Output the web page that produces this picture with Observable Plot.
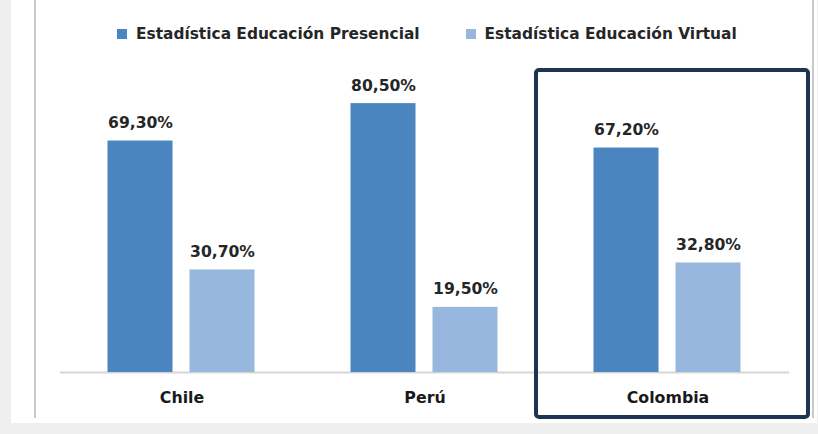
<!DOCTYPE html>
<html><head><meta charset="utf-8">
<script src="https://cdn.jsdelivr.net/npm/d3@7"></script>
<script src="https://cdn.jsdelivr.net/npm/@observablehq/plot@0.6"></script>
<style>
html,body{margin:0;padding:0;background:#efefef;}
#wrap{position:relative;width:818px;height:434px;overflow:hidden;background:#efefef;font-family:"DejaVu Sans",sans-serif;}
#paper{position:absolute;left:11px;top:0;width:806px;height:423px;background:#fff;}
#lineL{position:absolute;left:34px;top:0;width:2px;height:418px;background:#c9c9c9;}
#lineR{position:absolute;left:812px;top:0;width:2px;height:418px;background:#c9c9c9;}
#legend{position:absolute;top:17px;left:117px;}
#chart{position:absolute;left:0;top:0;}
#chart svg [aria-label^="fx-axis"] text{font-size:15.8px;font-weight:bold;fill:#1a1a1a;}
#legend .lg-swatch{margin-right:46px !important;font-size:15.4px;font-weight:bold;color:#262626;font-family:"DejaVu Sans",sans-serif;}
#legend .lg-swatch svg{margin-right:9px !important;}
</style></head><body>
<div id="wrap"><div id="paper"></div><div id="lineL"></div><div id="lineR"></div><div id="chart"></div><div id="legend"></div></div>
<script>
const countries = ["Chile", "Perú", "Colombia"];
const series = ["Estadística Educación Presencial", "Estadística Educación Virtual"];
const presencial = [69.3, 80.5, 67.2];
const virtual = [30.7, 19.5, 32.8];
const colors = ["#4a85bf", "#97b7de"];
const highlighted = ["Colombia"];

const data = countries.flatMap((c, i) => [
  {country: c, serie: series[0], value: presencial[i]},
  {country: c, serie: series[1], value: virtual[i]}
]);
const fmt = v => v.toFixed(2).replace(".", ",") + "%";

const chart = Plot.plot({
  width: 818, height: 434,
  marginTop: 38, marginBottom: 62, marginLeft: 59.5, marginRight: 29.5,
  style: {fontFamily: "'DejaVu Sans', sans-serif", background: "transparent", overflow: "visible"},
  fx: {domain: countries, padding: 0, label: null, tickSize: 0, tickPadding: 19, axis: "bottom"},
  x: {domain: series, paddingInner: 0.207, paddingOuter: 0.585, axis: null},
  y: {domain: [0, 100], axis: null},
  color: {domain: series, range: colors},
  marks: [
    Plot.ruleY([0], {stroke: "#d6d6d6", strokeWidth: 2}),
    Plot.barY(data, {fx: "country", x: "serie", y: "value", fill: "serie"}),
    Plot.text(data, {fx: "country", x: "serie", y: "value", text: d => fmt(d.value), dy: -13, lineAnchor: "bottom", fontSize: 15.6, fontWeight: "bold", fill: "#262626"}),
    Plot.barY(highlighted, {fx: d => d, y1: 0, y2: 100, fill: "none", stroke: "#1e3552", strokeWidth: 4, rx: 3, insetTop: 32, insetBottom: -45, insetLeft: -10, insetRight: -19})
  ]
});
document.getElementById("chart").appendChild(chart);

const legend = Plot.legend({color: {domain: series, range: colors}, swatchSize: 10, className: "lg"});
document.getElementById("legend").appendChild(legend);
</script>
</body></html>
